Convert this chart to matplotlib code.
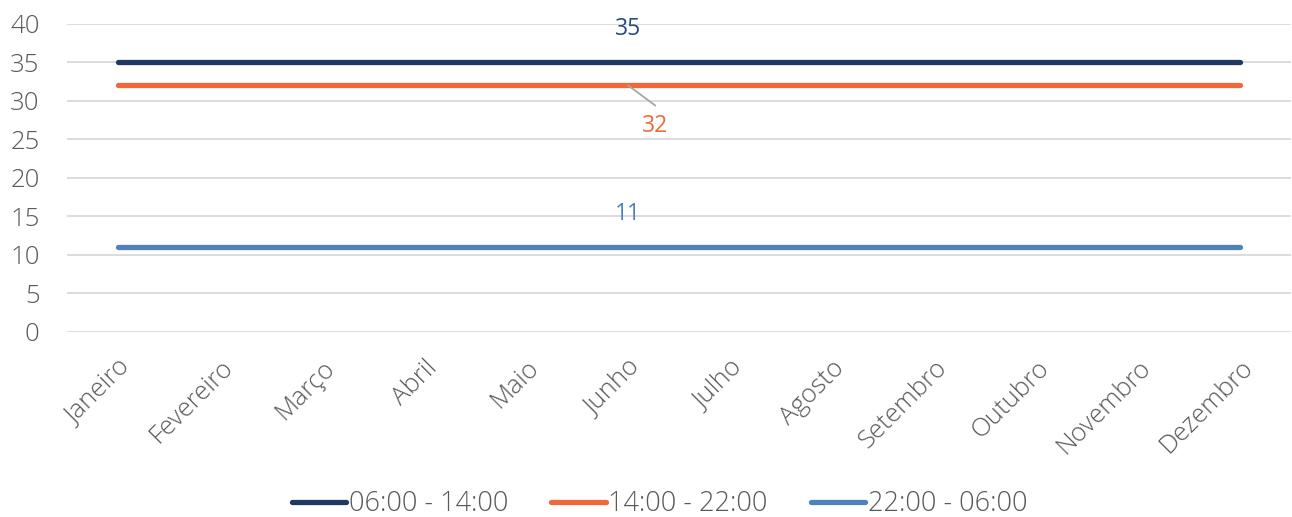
import matplotlib.pyplot as plt
import numpy as np

MONTHS = ['Janeiro', 'Fevereiro', 'Março', 'Abril', 'Maio', 'Junho', 'Julho',
          'Agosto', 'Setembro', 'Outubro', 'Novembro', 'Dezembro']
TURNO_1 = [35] * 12
TURNO_2 = [32] * 12
TURNO_3 = [11] * 12
SERIES = ['06:00 - 14:00', '14:00 - 22:00', '22:00 - 06:00']
COLORS = ['#203864', '#F0693B', '#4F81BD']
LABEL_COLORS = ['#2B4A78', '#F0693B', '#4F81BD']

plt.rcParams['font.family'] = ['Open Sans', 'DejaVu Sans']
plt.rcParams['font.weight'] = 'light'

fig = plt.figure(figsize=(12.92, 5.17), dpi=100)
ax = fig.add_axes([0.052, 0.358, 0.9474, 0.596])

x = np.arange(len(MONTHS))
for vals, name, c in zip([TURNO_1, TURNO_2, TURNO_3], SERIES, COLORS):
    ax.plot(x, vals, color=c, lw=3.8, solid_capstyle='round', label=name, zorder=3)

ax.set_xlim(-0.5, 11.5)
ax.set_ylim(0, 40)
ax.set_yticks(range(0, 41, 5))
ax.grid(axis='y', color='#D9D9D9', lw=1.3)
ax.set_axisbelow(True)
for s in ax.spines.values():
    s.set_visible(False)
ax.tick_params(length=0, colors='#595959', labelsize=18.5)
ax.tick_params(axis='y', pad=20)
ax.set_xticks(x)
ax.set_xticklabels(MONTHS, rotation=45, ha='right', rotation_mode='anchor')
ax.tick_params(axis='x', pad=17)

# data labels at Junho
ax.annotate(str(TURNO_1[5]), (5, TURNO_1[5]), xytext=(0, 24), textcoords='offset points',
            ha='center', va='center', fontsize=16.5, color=LABEL_COLORS[0], fontweight='normal')
# leader line for the 32 label
ax.annotate('', (5, TURNO_2[5]), xytext=(19.5, -14.5), textcoords='offset points',
            arrowprops=dict(arrowstyle='-', color='#A6A6A6', lw=1.3, shrinkA=0, shrinkB=0))
ax.annotate(str(TURNO_2[5]), (5, TURNO_2[5]), xytext=(19.5, -29), textcoords='offset points',
            ha='center', va='center', fontsize=16.5, color=LABEL_COLORS[1], fontweight='normal')
ax.annotate(str(TURNO_3[5]), (5, TURNO_3[5]), xytext=(0, 24), textcoords='offset points',
            ha='center', va='center', fontsize=16.5, color=LABEL_COLORS[2], fontweight='normal')

fig.legend(loc='lower center', bbox_to_anchor=(0.5105, -0.05), ncol=3, frameon=False,
           fontsize=19.5, labelcolor='#595959', handlelength=2.0, handletextpad=0.1,
           columnspacing=1.6)

fig.savefig('out.png', dpi=100)
